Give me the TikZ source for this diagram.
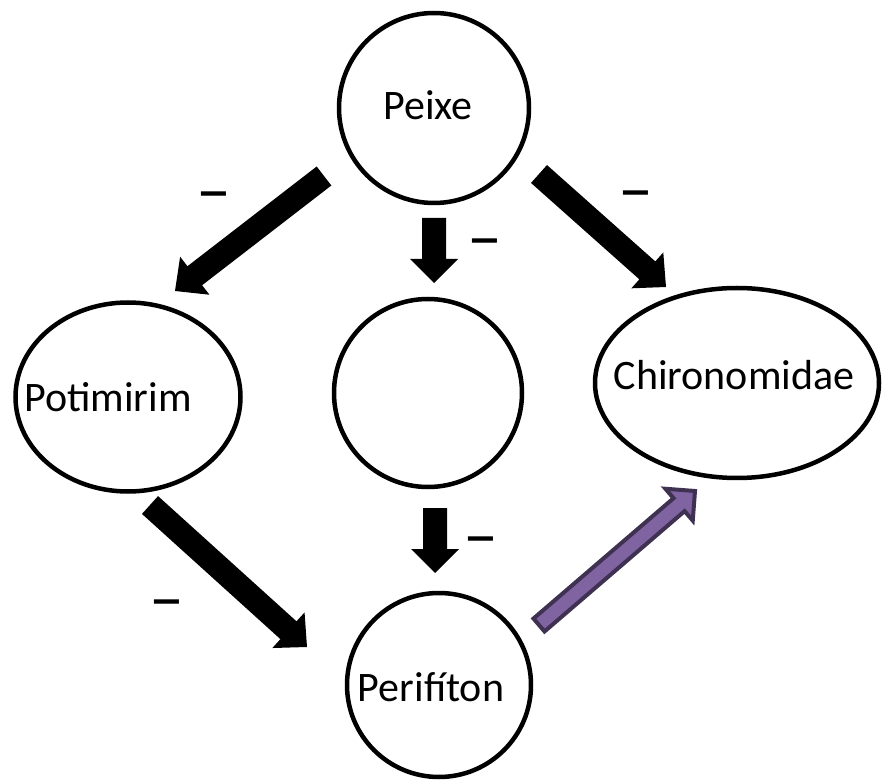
\documentclass[tikz,border=0pt]{standalone}
\usepackage{fontspec}
\setmainfont{Carlito}
\usetikzlibrary{calc,shapes.geometric}
\definecolor{roxo}{HTML}{8064A2}
\definecolor{roxoesc}{HTML}{3F3151}
% tail, tip, half shaft, half head, head length
\newcommand{\blockarrow}[6][]{%
  \coordinate (ba) at ($(#3)!#6!(#2)$);
  \path[#1] ($(#2)!#4!90:(#3)$) -- ($(ba)!#4!90:(#3)$) -- ($(ba)!#5!90:(#3)$) -- (#3)
    -- ($(ba)!#5!-90:(#3)$) -- ($(ba)!#4!-90:(#3)$) -- ($(#2)!#4!-90:(#3)$) -- cycle;}

\begin{document}
\begin{tikzpicture}[x=1pt,y=-1pt,
  forma/.style={draw,line width=4.5pt,inner sep=0pt},
  rotulo/.style={font=\fontsize{42}{50}\selectfont,anchor=base,inner sep=0pt},
  menos/.style={font=\fontsize{70}{72}\selectfont,inner sep=0pt,yshift=-9pt},
  preta/.style={fill=black},
  roxa/.style={fill=roxo,draw=roxoesc,line width=4pt,line join=miter}]
\useasboundingbox (0,0) rectangle (884,783);

\node[forma,circle,minimum size=190pt] (peixe) at (434,108) {};
\node[forma,ellipse,minimum width=225pt,minimum height=189pt] (poti) at (128,397) {};
\node[forma,circle,minimum size=188pt] (meio) at (428,393) {};
\node[forma,ellipse,minimum width=284pt,minimum height=190pt] (chiro) at (737,383) {};
\node[forma,circle,minimum size=184pt] (perif) at (439,685) {};

\node[rotulo] (tpeixe) at (428,120) {Peixe};
\node[rotulo] (tpoti) at (108,412) {Potimirim};
\node[rotulo] (tchiro) at (734,390) {Chironomidae};
\node[rotulo] (tperif) at (431,701) {Perifíton};

\coordinate (a1) at (324,176); \coordinate (b1) at (175,291);
\coordinate (a2) at (539,174); \coordinate (b2) at (666,287);
\coordinate (a3) at (434,218); \coordinate (b3) at (434,283);
\coordinate (a4) at (435,508); \coordinate (b4) at (435,573);
\coordinate (a5) at (150,505); \coordinate (b5) at (307,647);
\coordinate (a6) at (539,625); \coordinate (b6) at (695,491);

\blockarrow[preta]{a1}{b1}{12pt}{24pt}{25pt}
\blockarrow[preta]{a2}{b2}{12pt}{24pt}{25pt}
\blockarrow[preta]{a3}{b3}{12pt}{24pt}{24pt}
\blockarrow[preta]{a4}{b4}{12pt}{24pt}{24pt}
\blockarrow[preta]{a5}{b5}{12pt}{24pt}{25pt}
\blockarrow[roxa]{a6}{b6}{8.5pt}{21pt}{21pt}

\node[menos] (m1) at (214,194) {–};
\node[menos] (m2) at (485,241) {–};
\node[menos] (m3) at (636,193) {–};
\node[menos] (m4) at (481,539) {–};
\node[menos] (m5) at (167,602) {–};
\end{tikzpicture}
\end{document}
